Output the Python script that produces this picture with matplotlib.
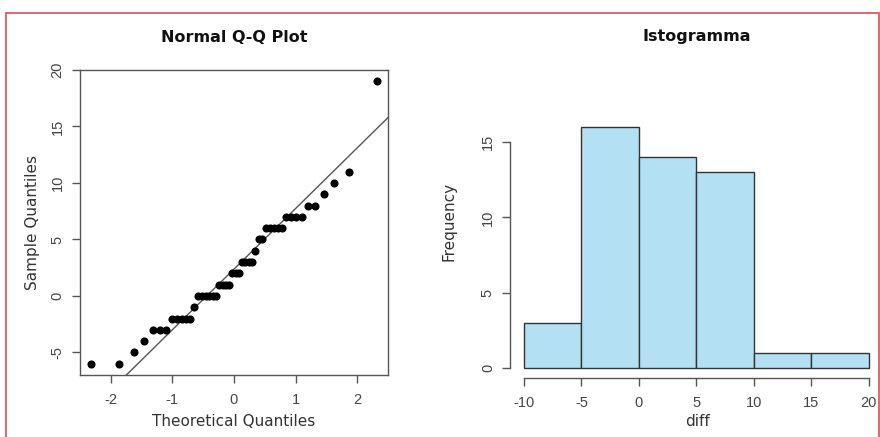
import numpy as np
import pandas as pd
import matplotlib
matplotlib.use("Agg")
import matplotlib.pyplot as plt
from matplotlib.patches import Rectangle
from statistics import NormalDist

# ---- data ----
diff_values = [-6, -6, -5, -4, -3, -3, -3, -2, -2, -2, -2, -2, -1,
               0, 0, 0, 0, 0, 0, 1, 1, 1, 1, 2, 2, 2, 3, 3, 3, 3, 4,
               5, 5, 6, 6, 6, 6, 6, 7, 7, 7, 7, 8, 8, 9, 10, 11, 19]
hist_breaks = [-10, -5, 0, 5, 10, 15, 20]
qq_xticks = [-2, -1, 0, 1, 2]
qq_yticks = [-5, 0, 5, 10, 15, 20]
hist_xticks = [-10, -5, 0, 5, 10, 15, 20]
hist_yticks = [0, 5, 10, 15]

W, H = 880, 437
fig = plt.figure(figsize=(W / 100, H / 100), dpi=100)
fig.patch.set_facecolor("white")

FONT = "Liberation Sans"
LAB_FONT = "DejaVu Sans"
AX_COL = "#555555"
TXT_COL = "#444444"

def fx(px):
    return px / W

def fy(py):
    return 1 - py / H

# ---- Q-Q plot ----
y = np.sort(np.array(diff_values, dtype=float))
n = len(y)
nd = NormalDist()
theo = np.array([nd.inv_cdf((i - 0.5) / n) for i in range(1, n + 1)])

axq = fig.add_axes([fx(80), fy(375), fx(388) - fx(80), fy(70) - fy(375)])
axq.scatter(theo, y, s=34, color="black", zorder=3, linewidths=0)
q1, q3 = np.percentile(y, [25, 75])
z1, z3 = nd.inv_cdf(0.25), nd.inv_cdf(0.75)
slope = (q3 - q1) / (z3 - z1)
icpt = q1 - slope * z1
axq.axline((0, icpt), slope=slope, color="#555555", lw=1.0, zorder=2)

xr = theo.max() - theo.min()
yr = y.max() - y.min()
axq.set_xlim(theo.min() - 0.04 * xr, theo.max() + 0.04 * xr)
axq.set_ylim(y.min() - 0.04 * yr, y.max() + 0.04 * yr)
axq.set_xticks(qq_xticks)
axq.set_yticks(qq_yticks)
axq.set_xticklabels([str(t) for t in qq_xticks], family=FONT, fontsize=10.5, color=TXT_COL)
axq.set_yticklabels([str(t) for t in qq_yticks], family=FONT, fontsize=10.5, color=TXT_COL,
                    rotation=90, va="center")
axq.tick_params(direction="out", length=6, width=1, color=AX_COL)
axq.tick_params(axis="x", pad=7)
axq.tick_params(axis="y", pad=5)
for sp in axq.spines.values():
    sp.set_color(AX_COL)
    sp.set_linewidth(1)

fig.text(fx(234), fy(37), "Normal Q-Q Plot", ha="center", va="center",
         fontsize=11.5, fontweight="bold", family=LAB_FONT, color="#111111")
fig.text(fx(234), fy(421), "Theoretical Quantiles", ha="center", va="center",
         fontsize=11, family=LAB_FONT, color="#333333")
fig.text(fx(33), fy(222), "Sample Quantiles", ha="center", va="center", rotation=90,
         fontsize=11, family=LAB_FONT, color="#333333")

# ---- Histogram ----
counts = pd.cut(pd.Series(diff_values), bins=hist_breaks, right=True,
                include_lowest=True).value_counts(sort=False).values
br = np.array(hist_breaks, dtype=float)

left_px, right_px = 510.2, 882.5
bot_px, top_px = 377.6, 117.4
axh = fig.add_axes([fx(left_px), fy(bot_px), fx(right_px) - fx(left_px), fy(top_px) - fy(bot_px)])
axh.bar(br[:-1], counts, width=np.diff(br), align="edge", color="#B3E0F2",
        edgecolor="#333333", linewidth=1.0)
brr = br.max() - br.min()
axh.set_xlim(br.min() - 0.04 * brr, br.max() + 0.04 * brr)
axh.set_ylim(-0.04 * counts.max(), counts.max() * 1.04)
for k in ("top", "right"):
    axh.spines[k].set_visible(False)
axh.spines["left"].set_bounds(hist_yticks[0], hist_yticks[-1])
axh.spines["bottom"].set_bounds(hist_xticks[0], hist_xticks[-1])
for k in ("left", "bottom"):
    axh.spines[k].set_color(AX_COL)
    axh.spines[k].set_linewidth(1)
axh.set_xticks(hist_xticks)
axh.set_yticks(hist_yticks)
axh.set_xticklabels([str(t) for t in hist_xticks], family=FONT, fontsize=10.5, color=TXT_COL)
axh.set_yticklabels([str(t) for t in hist_yticks], family=FONT, fontsize=10.5, color=TXT_COL,
                    rotation=90, va="center")
axh.tick_params(direction="out", length=6, width=1, color=AX_COL)
axh.tick_params(axis="x", pad=7)
axh.tick_params(axis="y", pad=5)
axh.patch.set_alpha(0)

fig.text(fx(697), fy(37), "Istogramma", ha="center", va="center",
         fontsize=11.5, fontweight="bold", family=LAB_FONT, color="#111111")
fig.text(fx(697), fy(421), "diff", ha="center", va="center",
         fontsize=11, family=LAB_FONT, color="#333333")
fig.text(fx(449), fy(221), "Frequency", ha="center", va="center", rotation=90,
         fontsize=11, family=LAB_FONT, color="#333333")

# ---- red frame ----
fig.patches.append(Rectangle((fx(6), -0.05), fx(879) - fx(6), fy(13) + 0.05,
                             transform=fig.transFigure, fill=False,
                             edgecolor="#E05A5E", linewidth=1.3, zorder=10))

fig.savefig("out.png", dpi=100)
